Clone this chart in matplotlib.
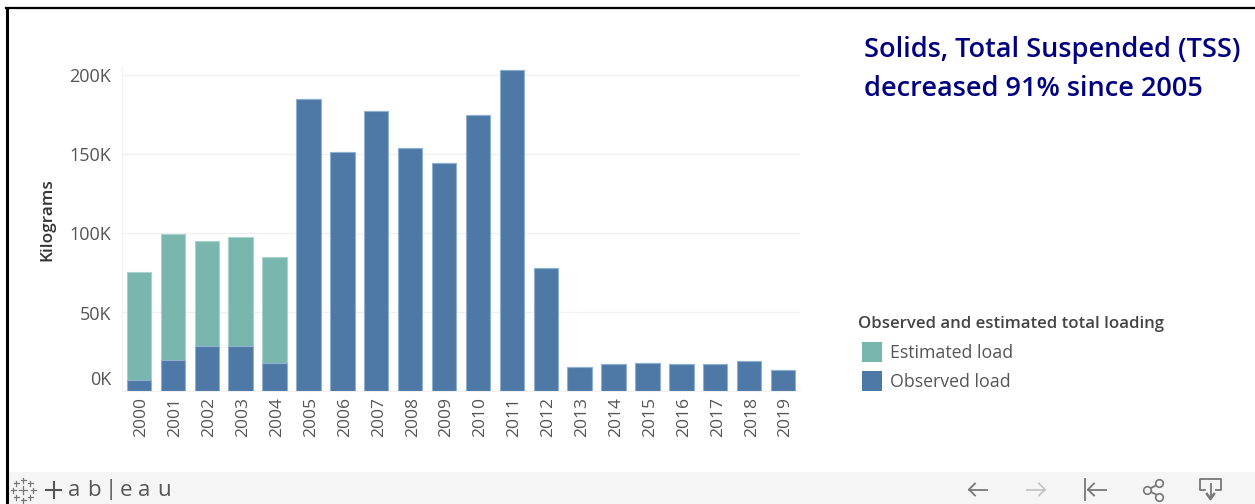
import matplotlib
matplotlib.use("Agg")
import matplotlib.pyplot as plt
from matplotlib.patches import Rectangle
from matplotlib.lines import Line2D

years = [str(y) for y in range(2000, 2020)]
observed = [7, 19.5, 28.5, 28.5, 17.5, 185, 151.5, 177.5, 153.5, 144,
            174.5, 203, 78, 15, 17, 18, 17, 17, 19, 13]
estimated = [68.3, 80, 66.5, 69, 67, 0, 0, 0, 0, 0, 0, 0, 0, 0, 0, 0, 0, 0, 0, 0]
y_ticks = [0, 50, 100, 150, 200]
y_labels = ["0K", "50K", "100K", "150K", "200K"]
title_lines = ["Solids, Total Suspended (TSS)", "decreased 91% since 2005"]
legend_title = "Observed and estimated total loading"
legend_names = ["Estimated load", "Observed load"]

W, H = 1255, 504
FONT = "Open Sans"
plt.rcParams["font.family"] = [FONT, "DejaVu Sans"]
TEAL = "#79b6ae"
BLUE = "#4e79a7"
EDGE_T = "#a9d3cd"
EDGE_B = "#8fb0cf"
TXT = "#555555"

fig = plt.figure(figsize=(W / 100, H / 100), dpi=100, facecolor="white")

def fx(x):
    return x / W

def fy(y):
    return 1 - y / H

# Overlay in pixel coordinates for page furniture
ov = fig.add_axes([0, 0, 1, 1], zorder=0)
ov.set_xlim(0, W)
ov.set_ylim(H, 0)
ov.axis("off")
ov.add_patch(Rectangle((8, 472), W - 8, 32, fc="#f5f5f5", ec="none"))
ov.add_line(Line2D([7, 7], [8, 504], color="black", lw=2.2))
ov.add_line(Line2D([6, W], [8, 8], color="black", lw=1.6))

# Chart
ax_left, ax_right, ax_top, ax_bottom = 122, 800, 66, 391
ax = fig.add_axes([fx(ax_left), fy(ax_bottom), (ax_right - ax_left) / W, (ax_bottom - ax_top) / H],
                  zorder=1, facecolor="none")
x = list(range(len(years)))
ax.bar(x, observed, width=0.72, color=BLUE, edgecolor=EDGE_B, linewidth=0.8, zorder=3)
ax.bar(x, estimated, width=0.72, bottom=observed, color=TEAL, edgecolor=EDGE_T, linewidth=0.8, zorder=2.9)
ax.set_xlim(-0.5, 19.5)
ax.set_ylim(0, 325 / 79 * 50)
ax.set_yticks(y_ticks)
ax.set_yticklabels([])
ax.set_xticks(x)
ax.set_xticklabels([])
for xi, yr in zip(x, years):
    ax.annotate(yr, xy=(xi, 0), xycoords=("data", "axes fraction"),
                xytext=(1.8, -4.5), textcoords="offset points", rotation=90,
                ha="center", va="top", fontsize=12.6, color=TXT)
ax.tick_params(axis="x", length=0)
ax.tick_params(axis="y", length=0)
ax.grid(axis="y", color="#f0f0f0", lw=1, zorder=0)
for s in ["top", "right"]:
    ax.spines[s].set_visible(False)
ax.spines["left"].set_color("#f2f2f2")
ax.spines["bottom"].set_color("#f0f0f0")

# Y labels (the zero label sits above its gridline, as in Tableau)
for val, lab in zip(y_ticks, y_labels):
    dy = 11 if val == 0 else -2.5
    ax.annotate(lab, xy=(0, val), xycoords=("axes fraction", "data"),
                xytext=(-8, dy * 0.72), textcoords="offset points",
                ha="right", va="center", fontsize=13, color=TXT)

ov.text(47, 220, "Kilograms", rotation=90, ha="center", va="center",
        fontsize=12.4, fontweight="semibold", color="#333333")

# Title
for txt, yy in zip(title_lines, [50.5, 89]):
    ov.text(864, yy, txt, ha="left", va="center", fontsize=19.5,
            fontweight="semibold", color="#000080")

# Legend
ov.text(858, 324.5, legend_title, ha="left", va="center", fontsize=12.1,
        fontweight="semibold", color="#444444")
for name, col, yy in zip(legend_names, [TEAL, BLUE], [351.5, 380.5]):
    ov.add_patch(Rectangle((862, yy - 10), 20, 20, fc=col, ec="none"))
    ov.text(890, yy + 1.5, name, ha="left", va="center", fontsize=12.8, color=TXT)

# Footer: tableau wordmark
logo_c = "#777777"
for cx, cy, s in [(23, 490, 4), (13, 490, 2.5), (33, 490, 2.5), (23, 480, 2.5), (23, 500, 2.5),
                  (16, 483, 2.5), (30, 483, 2.5), (16, 497, 2.5), (30, 497, 2.5)]:
    ov.plot([cx - s, cx + s], [cy, cy], color=logo_c, lw=0.9)
    ov.plot([cx, cx], [cy - s, cy + s], color=logo_c, lw=0.9)
ov.plot([46, 61], [490, 490], color="#555555", lw=1.5)
ov.plot([53.5, 53.5], [482, 498], color="#555555", lw=1.5)
for ch, xx in zip(["a", "b", "|", "e", "a", "u"], [74, 94, 111, 126, 144, 164]):
    ov.text(xx, 490, ch, ha="center", va="center", fontsize=16, color="#555555")

# Footer: nav icons
ic = "#777777"
ic2 = "#c4c4c4"
def arrow(x0, x1, y, col, lw=1.3):
    d = 6 if x1 < x0 else -6
    ov.plot([x0, x1], [y, y], color=col, lw=lw)
    ov.plot([x1 + d, x1, x1 + d], [y - 6, y, y + 6], color=col, lw=lw)
arrow(987, 969, 489.5, ic)
ov.plot([1027, 1045], [489.5, 489.5], color=ic2, lw=1.3)
ov.plot([1039, 1045, 1039], [483.5, 489.5, 495.5], color=ic2, lw=1.3)
ov.plot([1085, 1085], [479, 500], color=ic, lw=1.3)
arrow(1106, 1088, 489.5, ic)
# share
ov.plot([1159, 1147, 1159], [484, 490, 496], color=ic, lw=1.3, zorder=2)
ov.scatter([1159, 1147, 1159], [483, 490, 497], s=30, fc="#f5f5f5", ec=ic, lw=1.2, zorder=3)
# download
ov.plot([1205, 1200, 1200, 1221, 1221, 1216], [490, 490, 479, 479, 490, 490], color=ic, lw=1.3)
ov.plot([1210.5, 1210.5], [484, 497], color=ic, lw=1.3)
ov.plot([1207, 1210.5, 1214], [494, 499, 494], color=ic, lw=1.8)
ov.set_xlim(0, W)
ov.set_ylim(H, 0)

fig.savefig("out.png", dpi=100, facecolor="white")
